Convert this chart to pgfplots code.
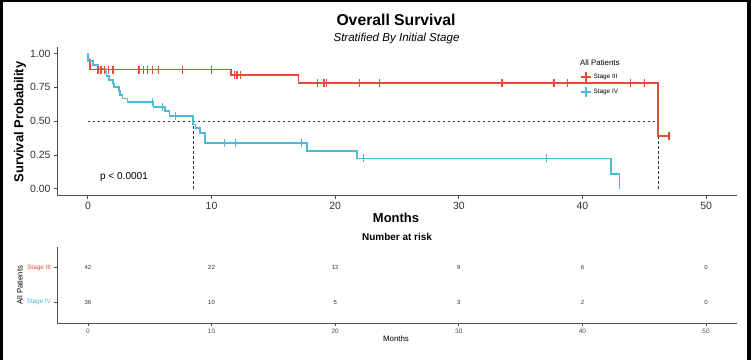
\documentclass[border=0pt]{standalone}
\usepackage{fontspec}
\setmainfont{Liberation Sans}
\usepackage{pgfplots}
\pgfplotsset{compat=1.18}
\definecolor{kmred}{HTML}{E64B35}
\definecolor{kmblue}{HTML}{4DBBD5}
\definecolor{axgray}{HTML}{4D4D4D}
\definecolor{txt}{HTML}{333333}
\pgfplotsset{
  crossred/.style={legend image code/.code={\draw[kmred,line width=1.5bp] (0bp,0bp)--(10bp,0bp); \draw[kmred,line width=1.5bp] (5bp,-5bp)--(5bp,5bp);}},
  crossblue/.style={legend image code/.code={\draw[kmblue,line width=1.5bp] (0bp,0bp)--(10bp,0bp); \draw[kmblue,line width=1.5bp] (5bp,-5bp)--(5bp,5bp);}},
}
\begin{document}
\begin{tikzpicture}
\fill[white] (0bp,0bp) rectangle (751bp,360bp);
\useasboundingbox (0bp,0bp) rectangle (751bp,360bp);
\fill[black] (0bp,0bp) rectangle (2.5bp,360bp);
\fill[black] (747bp,0bp) rectangle (751bp,360bp);
\fill[black] (0bp,358bp) rectangle (751bp,360bp);

\begin{axis}[
  at={(57bp,164.3bp)}, anchor=south west, scale only axis,
  width=680bp, height=149bp,
  xmin=-2.5, xmax=52.5, ymin=-0.05, ymax=1.05,
  axis x line*=bottom, axis y line*=left,
  axis line style={-, axgray, line width=0.9bp},
  xtick={0,10,20,30,40,50},
  ytick={0,0.25,0.5,0.75,1}, yticklabels={0.00,0.25,0.50,0.75,1.00},
  scaled ticks=false,
  /pgf/number format/assume math mode=true,
  tick align=outside, major tick length=3bp,
  tick style={axgray, line width=0.9bp},
  tick label style={font=\fontsize{10.5}{12}\selectfont, text=txt},
  legend style={at={(axis description cs:0.769,0.837)}, anchor=north west,
    draw=none, fill=none, font=\fontsize{6.4}{7}\selectfont, inner sep=0pt,
    row sep=3.5bp, /tikz/every even column/.append style={column sep=3bp}},
  legend cell align=left,
  clip=false,
]
\addlegendimage{crossred}
\addlegendentry{Stage III}
\addlegendimage{crossblue}
\addlegendentry{Stage IV}

% median lines
\addplot[txt, line width=0.7bp, dash pattern=on 2.5bp off 2.5bp] coordinates {(0,0.5) (46.13,0.5)};
\addplot[txt, line width=0.7bp, dash pattern=on 2.5bp off 2.5bp] coordinates {(8.5,0) (8.5,0.5)};
\addplot[txt, line width=0.7bp, dash pattern=on 2.5bp off 2.5bp] coordinates {(46.13,0) (46.13,0.5)};

% Stage III
\addplot[kmred, line width=1.8bp, const plot] coordinates {
(0,1)(0.02,0.952)(0.15,0.881)(11.6,0.841)(17.04,0.780)(46.13,0.390)(47.0,0.390)};
\addplot[kmred, only marks, mark=|, mark size=4bp, mark options={line width=1.3bp}] coordinates {
(0.81,0.881)(1.07,0.881)(1.34,0.881)(1.69,0.881)(2.02,0.881)
(4.14,0.881)(4.49,0.881)(4.84,0.881)(5.22,0.881)(5.70,0.881)(7.63,0.881)(10.0,0.881)
(11.88,0.841)(12.07,0.841)(12.34,0.841)
(18.57,0.780)(19.09,0.780)(19.27,0.780)(21.96,0.780)(23.6,0.780)(33.5,0.780)
(37.7,0.780)(38.8,0.780)(43.9,0.780)(45.0,0.780)(47.0,0.390)};

% Stage IV
\addplot[kmblue, line width=1.8bp, const plot] coordinates {
(0,1)(0.03,0.944)(0.38,0.917)(0.8,0.889)(1.4,0.861)(1.5,0.833)(1.7,0.806)(2.0,0.778)
(2.1,0.75)(2.5,0.722)(2.6,0.694)(2.8,0.667)(3.2,0.639)(5.3,0.604)(6.24,0.573)(6.6,0.536)
(8.5,0.475)(8.7,0.45)(9.06,0.414)(9.46,0.338)(17.7,0.282)(21.75,0.225)(42.3,0.113)(43.0,0.0)};
\addplot[kmblue, only marks, mark=|, mark size=4bp, mark options={line width=1.3bp}] coordinates {
(5.24,0.639)(6.05,0.604)(7.07,0.536)(11.05,0.338)(11.94,0.338)(17.3,0.338)(22.3,0.225)(37.1,0.225)};
\end{axis}

\begin{axis}[
  at={(57bp,37bp)}, anchor=south west, scale only axis,
  width=680bp, height=76bp,
  xmin=-2.5, xmax=52.5, ymin=0.4, ymax=2.6,
  axis x line*=bottom, axis y line*=left,
  axis line style={-, axgray, line width=0.9bp},
  xtick={0,10,20,30,40,50},
  ytick={1,2}, yticklabels={\textcolor{kmblue}{Stage IV},\textcolor{kmred}{Stage III}},
  scaled ticks=false,
  /pgf/number format/assume math mode=true,
  tick align=outside, major tick length=2.5bp,
  tick style={axgray, line width=0.7bp},
  x tick label style={font=\fontsize{6.5}{8}\selectfont, text=axgray},
  y tick label style={font=\fontsize{6.4}{8}\selectfont},
  clip=false,
]
\addplot[draw=none, mark=none, nodes near coords, point meta=explicit symbolic,
  nodes near coords style={anchor=center, font=\fontsize{6}{7}\selectfont, text=txt}]
  table[meta=n] {
x y n
0 2 42
10 2 22
20 2 12
30 2 9
40 2 6
50 2 0
0 1 36
10 1 10
20 1 5
30 1 3
40 1 2
50 1 0
};
\end{axis}

% titles and labels
\node[font=\fontsize{15.8}{18}\selectfont\bfseries] at (396bp,340.3bp) {Overall Survival};
\node[font=\fontsize{11.6}{14}\selectfont\itshape] at (396.5bp,321.8bp) {Stratified By Initial Stage};
\node[font=\fontsize{13}{15}\selectfont\bfseries, rotate=90] at (20bp,238bp) {Survival Probability};
\node[font=\fontsize{13}{15}\selectfont\bfseries] at (396bp,142bp) {Months};
\node[font=\fontsize{10.1}{12}\selectfont] at (124bp,183bp) {p < 0.0001};
\node[font=\fontsize{7.9}{9}\selectfont, anchor=west, inner sep=0pt] at (580bp,297.7bp) {All Patients};
\node[font=\fontsize{10}{12}\selectfont\bfseries] at (397bp,122.7bp) {Number at risk};
\node[font=\fontsize{7.7}{9}\selectfont, rotate=90] at (20bp,75bp) {All Patients};
\node[font=\fontsize{7.9}{9}\selectfont] at (396bp,21bp) {Months};
\end{tikzpicture}
\end{document}
